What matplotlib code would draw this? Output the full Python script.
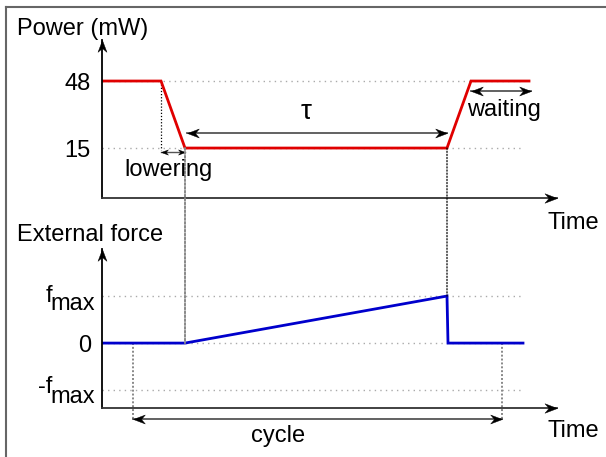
import matplotlib
matplotlib.use("Agg")
import matplotlib.pyplot as plt
import numpy as np
from matplotlib.path import Path
from matplotlib.patches import ConnectionPatch
from matplotlib.lines import Line2D

plt.rcParams['font.family'] = ['Liberation Sans', 'DejaVu Sans']

# ---------------- data ----------------
# power profile (time in arbitrary units)
t_power = [0, 5.9, 8.3, 34.5, 36.9, 42.7]
p_power = [48, 48, 15, 15, 48, 48]
power_levels = [15, 48]
power_labels = ['15', '48']

# external force profile (normalised to f_max)
t_force = [0, 8.3, 34.5, 34.6, 42.1]
f_force = [0, 0, 1, 0, 0]
force_levels = [-1, 0, 1]

# annotation times
t_lower = (5.9, 8.3)
t_tau = (8.5, 34.5)
t_wait = (36.9, 42.9)
t_cycle = (3.1, 40.0)
t_ref_end = 42.2

W, H = 606, 457
fig = plt.figure(figsize=(W / 100, H / 100), dpi=100)


def fx(px):
    return px / W


def fy(py):
    return 1 - py / H


XMAX = 45.5
ax1 = fig.add_axes([fx(102), fy(198), fx(557) - fx(102), fy(40) - fy(198)])
ax2 = fig.add_axes([fx(102), fy(408), fx(557) - fx(102), fy(249) - fy(408)])
ax1.set_xlim(0, XMAX)
ax1.set_ylim(-9.6, 68.2)
ax2.set_xlim(0, XMAX)
ax2.set_ylim(-1.38, 2.0)

fs = 17

for ax in (ax1, ax2):
    for s in ax.spines.values():
        s.set_visible(False)
    ax.set_xticks([])
    ax.tick_params(axis='y', length=0, pad=8, labelsize=fs)
    ax.patch.set_alpha(0)

ax1.set_yticks(power_levels, power_labels)
ax2.set_yticks([0], ['0'])

# arrowhead markers (stealth-like), tip at origin
def head_path(direction):
    v = np.array([[0, 0], [-1, 0.38], [-0.68, 0], [-1, -0.38], [0, 0]], float)
    ang = {'right': 0, 'left': np.pi, 'up': np.pi / 2, 'down': -np.pi / 2}[direction]
    R = np.array([[np.cos(ang), -np.sin(ang)], [np.sin(ang), np.cos(ang)]])
    v = v @ R.T
    codes = [Path.MOVETO, Path.LINETO, Path.LINETO, Path.LINETO, Path.CLOSEPOLY]
    return Path(v, codes)


def head(ax, x, y, direction, size=16, color='black'):
    ax.plot([x], [y], marker=head_path(direction), markersize=size,
            color=color, markeredgewidth=0.3, clip_on=False, zorder=6)


def harrow(ax, x0, x1, y, both=True, size=13, lw=1.2, color='#555555'):
    ax.plot([x0, x1], [y, y], color=color, lw=lw, clip_on=False, zorder=5)
    head(ax, x1, y, 'right', size)
    if both:
        head(ax, x0, y, 'left', size)


# axes with arrows
for ax in (ax1, ax2):
    y0, y1 = ax.get_ylim()
    ax.plot([0, 0], [y0, y1], color='black', lw=1.3, clip_on=False, zorder=4)
    head(ax, 0, y1, 'up', 17)
    ax.plot([0, XMAX], [y0, y0], color='#333333', lw=1.3, clip_on=False, zorder=4)
    head(ax, XMAX, y0, 'right', 18)

dot_gray = dict(color='#aaaaaa', lw=1.0, linestyle=(0, (1, 3)))

# reference levels
for lv in power_levels:
    ax1.plot([0, t_ref_end], [lv, lv], **dot_gray, zorder=1)
for lv in force_levels:
    ax2.plot([0, t_ref_end], [lv, lv], **dot_gray, zorder=1)

# main curves
ax1.plot(t_power, p_power, color='#e00000', lw=2.0, zorder=3, solid_joinstyle='miter')
ax2.plot(t_force, f_force, color='#0000cc', lw=2.0, zorder=3, solid_joinstyle='miter')

# vertical guides
ax1.plot([t_lower[0], t_lower[0]], [48, 14], color='black', lw=0.9,
         linestyle=(0, (1, 1.5)), zorder=2)
cp1 = ConnectionPatch(xyA=(t_power[2], p_power[2]), coordsA=ax1.transData,
                      xyB=(t_force[1], 0), coordsB=ax2.transData,
                      color='#888888', lw=1.4, linestyle=(0, (1, 1)), zorder=2)
fig.add_artist(cp1)
cp2 = ConnectionPatch(xyA=(t_power[3], p_power[3]), coordsA=ax1.transData,
                      xyB=(t_force[2], f_force[2]), coordsB=ax2.transData,
                      color='black', lw=0.9, linestyle=(0, (1, 1.5)), zorder=2)
fig.add_artist(cp2)

y_cycle = -1.62
for tc in t_cycle:
    ax2.plot([tc, tc], [0, y_cycle], color='#888888', lw=1.4,
             linestyle=(0, (1, 1)), clip_on=False, zorder=2)

# annotation arrows
harrow(ax1, t_lower[0], t_lower[1], 13.0, size=10, lw=1.0)
harrow(ax1, t_tau[0], t_tau[1], 22.4, size=17, lw=1.3)
harrow(ax1, t_wait[0], t_wait[1], 43.1, size=17, lw=1.3)
harrow(ax2, t_cycle[0], t_cycle[1], y_cycle, size=17, lw=1.3)

# texts
fig.text(fx(17), fy(35), 'Power (mW)', fontsize=fs, va='baseline', ha='left')
fig.text(fx(17), fy(241), 'External force', fontsize=fs, va='baseline', ha='left')
fig.text(fx(548), fy(229), 'Time', fontsize=fs, va='baseline', ha='left')
fig.text(fx(548), fy(437), 'Time', fontsize=fs, va='baseline', ha='left')
fig.text(fx(168), fy(176), 'lowering', fontsize=fs, va='baseline', ha='center')
fig.text(fx(504), fy(116), 'waiting', fontsize=fs, va='baseline', ha='center')
fig.text(fx(306), fy(119), '\u03c4', fontsize=fs + 3, va='baseline', ha='center')
fig.text(fx(278), fy(442), 'cycle', fontsize=fs, va='baseline', ha='center')
fig.text(fx(46), fy(302), 'f', fontsize=fs, va='baseline', ha='left')
fig.text(fx(95), fy(310), 'max', fontsize=fs, va='baseline', ha='right')
fig.text(fx(38), fy(393), '-f', fontsize=fs, va='baseline', ha='left')
fig.text(fx(95), fy(403), 'max', fontsize=fs, va='baseline', ha='right')

# outer frame (left and top edges visible)
fig.add_artist(Line2D([fx(6), fx(6)], [fy(7), 0], color='#666666', lw=1.5))
fig.add_artist(Line2D([fx(6), 1], [fy(7), fy(7)], color='#666666', lw=1.5))

fig.savefig('out.png', dpi=100)
